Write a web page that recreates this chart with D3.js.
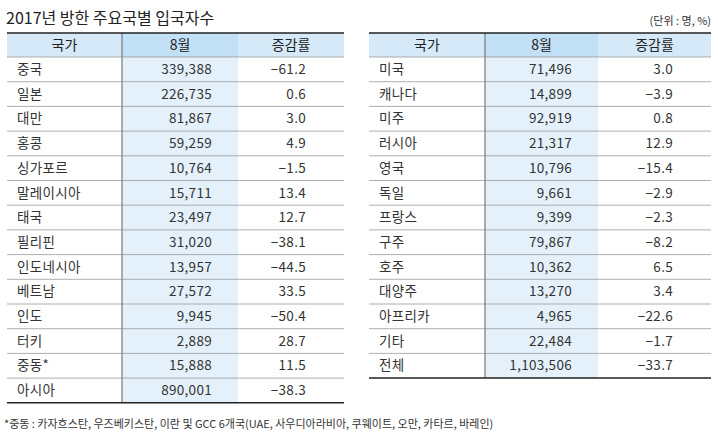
<!DOCTYPE html>
<html><head><meta charset="utf-8">
<script src="https://cdn.jsdelivr.net/npm/d3@7"></script>
<style>body{margin:0;background:#fff}svg{font-family:"Noto Sans CJK KR",sans-serif}</style>
</head><body>
<svg id="chart" width="718" height="447"></svg>
<script>
const headers = ["국가", "8월", "증감률"];
const leftNames = ["중국","일본","대만","홍콩","싱가포르","말레이시아","태국","필리핀","인도네시아","베트남","인도","터키","중동*","아시아"];
const leftCounts = ["339,388","226,735","81,867","59,259","10,764","15,711","23,497","31,020","13,957","27,572","9,945","2,889","15,888","890,001"];
const leftRates = ["−61.2","0.6","3.0","4.9","−1.5","13.4","12.7","−38.1","−44.5","33.5","−50.4","28.7","11.5","−38.3"];
const rightNames = ["미국","캐나다","미주","러시아","영국","독일","프랑스","구주","호주","대양주","아프리카","기타","전체"];
const rightCounts = ["71,496","14,899","92,919","21,317","10,796","9,661","9,399","79,867","10,362","13,270","4,965","22,484","1,103,506"];
const rightRates = ["3.0","−3.9","0.8","12.9","−15.4","−2.9","−2.3","−8.2","6.5","3.4","−22.6","−1.7","−33.7"];

const svg = d3.select("#chart");
const rowH = 24.7, headTop = 33, headH = 24;

svg.append("text").attr("x", 6).attr("y", 24).attr("font-size", 16).attr("fill", "#222")
  .text("2017년 방한 주요국별 입국자수");
svg.append("text").attr("x", 711).attr("y", 25).attr("font-size", 11).attr("fill", "#333")
  .attr("text-anchor", "end").text("(단위 : 명, %)");

function table(x0, x1, x2, x3, names, counts, rates) {
  const g = svg.append("g");
  const y = d3.scaleBand().domain(d3.range(names.length))
    .range([headTop + headH, headTop + headH + rowH * names.length]);
  const bottom = headTop + headH + rowH * names.length;
  g.append("rect").attr("x", x0).attr("y", headTop).attr("width", x3 - x0).attr("height", headH).attr("fill", "#d5e9f8");
  g.append("rect").attr("x", x1).attr("y", headTop).attr("width", x2 - x1).attr("height", headH).attr("fill", "#c2e0f6");
  g.append("rect").attr("x", x1).attr("y", headTop + headH).attr("width", x2 - x1).attr("height", bottom - headTop - headH).attr("fill", "#e4f1fb");
  g.selectAll("line.row").data(d3.range(names.length)).join("line")
    .attr("x1", x0).attr("x2", x3)
    .attr("y1", i => y(i)).attr("y2", i => y(i))
    .attr("stroke", "#9a9a9a").attr("stroke-width", 0.8);
  g.append("line").attr("x1", x1).attr("x2", x1).attr("y1", headTop).attr("y2", bottom)
    .attr("stroke", "#777").attr("stroke-width", 1.2);
  g.append("line").attr("x1", x0).attr("x2", x3).attr("y1", headTop).attr("y2", headTop).attr("stroke", "#222").attr("stroke-width", 1.5);
  g.append("line").attr("x1", x0).attr("x2", x3).attr("y1", bottom).attr("y2", bottom).attr("stroke", "#222").attr("stroke-width", 1.5);
  const hx = [(x0 + x1) / 2, (x1 + x2) / 2, (x2 + x3) / 2];
  g.selectAll("text.h").data(headers).join("text")
    .attr("x", (d, i) => hx[i]).attr("y", headTop + headH / 2).attr("dy", "0.35em")
    .attr("text-anchor", "middle").attr("font-size", 14).attr("fill", "#222").text(d => d);
  const cell = (arr, xx, anchor) => g.selectAll(null).data(arr).join("text")
    .attr("x", xx).attr("y", (d, i) => y(i) + rowH / 2).attr("dy", "0.35em")
    .attr("text-anchor", anchor).attr("font-size", 13.5).attr("letter-spacing", 0.3)
    .attr("fill", "#333").text(d => d);
  cell(names, x0 + 10, "start");
  cell(counts, x2 - 26, "end");
  cell(rates, x3 - 38, "end");
}
table(7, 122, 238, 344, leftNames, leftCounts, leftRates);
table(369, 485, 598, 711, rightNames, rightCounts, rightRates);

svg.append("text").attr("x", 4).attr("y", 428).attr("font-size", 11).attr("fill", "#333")
  .text("*중동 : 카자흐스탄, 우즈베키스탄, 이란 및 GCC 6개국(UAE, 사우디아라비아, 쿠웨이트, 오만, 카타르, 바레인)");
</script>
</body></html>
